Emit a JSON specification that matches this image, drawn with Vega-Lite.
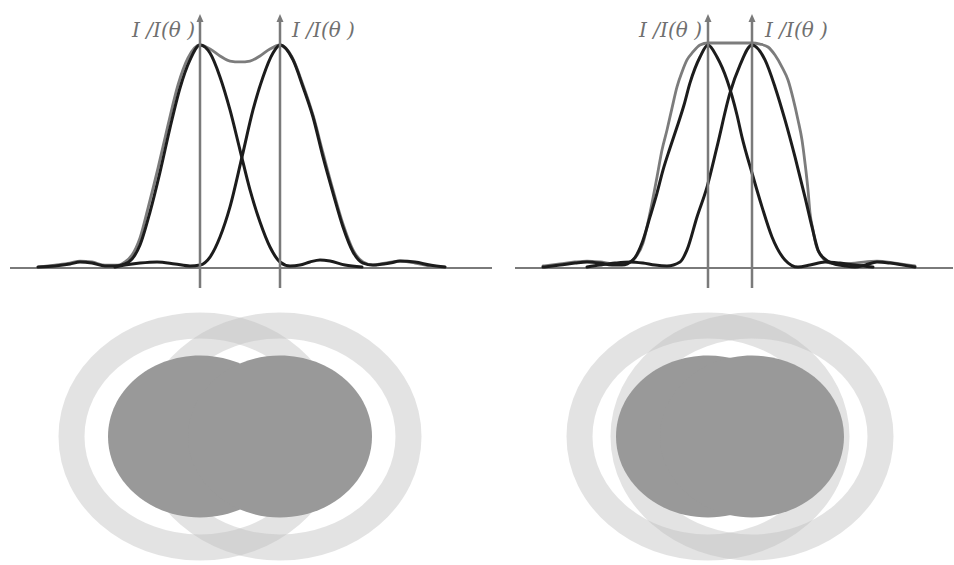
{
  "$schema": "https://vega.github.io/schema/vega-lite/v6.json",
  "padding": 0,
  "spacing": 0,
  "bounds": "flush",
  "columns": 2,
  "background": "white",
  "config": {"view": {"stroke": null}},
  "datasets": {
    "curvesL": [
      {"curve":"sum","theta":-20.2,"I":0.004},{"curve":"sum","theta":-18.5,"I":0.013},{"curve":"sum","theta":-17.0,"I":0.022},{"curve":"sum","theta":-16.0,"I":0.031},{"curve":"sum","theta":-14.8,"I":0.027},{"curve":"sum","theta":-13.5,"I":0.013},{"curve":"sum","theta":-12.2,"I":0.013},{"curve":"sum","theta":-11.5,"I":0.027},{"curve":"sum","theta":-10.8,"I":0.058},{"curve":"sum","theta":-10.0,"I":0.135},{"curve":"sum","theta":-9.2,"I":0.269},{"curve":"sum","theta":-8.2,"I":0.448},{"curve":"sum","theta":-7.2,"I":0.641},{"curve":"sum","theta":-6.2,"I":0.821},{"curve":"sum","theta":-5.2,"I":0.942},{"curve":"sum","theta":-4.0,"I":1.0},{"curve":"sum","theta":-3.0,"I":0.982},{"curve":"sum","theta":-2.0,"I":0.951},{"curve":"sum","theta":-1.0,"I":0.928},{"curve":"sum","theta":0.0,"I":0.924},{"curve":"sum","theta":1.0,"I":0.928},{"curve":"sum","theta":2.0,"I":0.951},{"curve":"sum","theta":3.0,"I":0.982},{"curve":"sum","theta":4.0,"I":1.0},{"curve":"sum","theta":5.2,"I":0.946},{"curve":"sum","theta":6.3,"I":0.821},{"curve":"sum","theta":7.3,"I":0.686},{"curve":"sum","theta":8.3,"I":0.516},{"curve":"sum","theta":9.3,"I":0.35},{"curve":"sum","theta":10.3,"I":0.197},{"curve":"sum","theta":11.3,"I":0.081},{"curve":"sum","theta":12.3,"I":0.027},{"curve":"sum","theta":13.3,"I":0.013},{"curve":"sum","theta":14.5,"I":0.022},{"curve":"sum","theta":16.0,"I":0.031},{"curve":"sum","theta":17.5,"I":0.022},{"curve":"sum","theta":19.0,"I":0.009},{"curve":"sum","theta":20.5,"I":0.004},
      {"curve":"A","theta":-20.2,"I":0.004},{"curve":"A","theta":-18.5,"I":0.009},{"curve":"A","theta":-17.0,"I":0.018},{"curve":"A","theta":-16.0,"I":0.027},{"curve":"A","theta":-14.8,"I":0.022},{"curve":"A","theta":-13.5,"I":0.009},{"curve":"A","theta":-12.5,"I":0.009},{"curve":"A","theta":-11.5,"I":0.018},{"curve":"A","theta":-10.8,"I":0.04},{"curve":"A","theta":-10.0,"I":0.103},{"curve":"A","theta":-9.0,"I":0.251},{"curve":"A","theta":-8.0,"I":0.43},{"curve":"A","theta":-7.0,"I":0.628},{"curve":"A","theta":-6.0,"I":0.807},{"curve":"A","theta":-5.0,"I":0.933},{"curve":"A","theta":-4.0,"I":1.0},{"curve":"A","theta":-3.0,"I":0.964},{"curve":"A","theta":-2.0,"I":0.857},{"curve":"A","theta":-1.0,"I":0.709},{"curve":"A","theta":0.0,"I":0.529},{"curve":"A","theta":1.0,"I":0.35},{"curve":"A","theta":2.0,"I":0.206},{"curve":"A","theta":3.0,"I":0.094},{"curve":"A","theta":4.0,"I":0.027},{"curve":"A","theta":5.0,"I":0.009},{"curve":"A","theta":6.0,"I":0.013},{"curve":"A","theta":7.0,"I":0.027},{"curve":"A","theta":8.0,"I":0.036},{"curve":"A","theta":9.0,"I":0.031},{"curve":"A","theta":10.5,"I":0.013},{"curve":"A","theta":12.2,"I":0.004},
      {"curve":"B","theta":-12.5,"I":0.004},{"curve":"B","theta":-11.5,"I":0.013},{"curve":"B","theta":-10.0,"I":0.022},{"curve":"B","theta":-8.3,"I":0.027},{"curve":"B","theta":-6.5,"I":0.018},{"curve":"B","theta":-5.0,"I":0.009},{"curve":"B","theta":-4.0,"I":0.013},{"curve":"B","theta":-3.0,"I":0.049},{"curve":"B","theta":-2.0,"I":0.139},{"curve":"B","theta":-1.0,"I":0.274},{"curve":"B","theta":0.2,"I":0.498},{"curve":"B","theta":1.3,"I":0.709},{"curve":"B","theta":2.3,"I":0.857},{"curve":"B","theta":3.3,"I":0.964},{"curve":"B","theta":4.0,"I":1.0},{"curve":"B","theta":5.3,"I":0.933},{"curve":"B","theta":6.3,"I":0.812},{"curve":"B","theta":7.3,"I":0.677},{"curve":"B","theta":8.3,"I":0.498},{"curve":"B","theta":9.3,"I":0.336},{"curve":"B","theta":10.3,"I":0.184},{"curve":"B","theta":11.3,"I":0.072},{"curve":"B","theta":12.3,"I":0.022},{"curve":"B","theta":13.3,"I":0.013},{"curve":"B","theta":15.0,"I":0.022},{"curve":"B","theta":16.0,"I":0.031},{"curve":"B","theta":17.5,"I":0.027},{"curve":"B","theta":19.0,"I":0.013},{"curve":"B","theta":20.5,"I":0.004}
    ],
    "curvesR": [
      {"curve":"sum","theta":-18.7,"I":0.009},{"curve":"sum","theta":-17.0,"I":0.018},{"curve":"sum","theta":-15.5,"I":0.027},{"curve":"sum","theta":-14.3,"I":0.031},{"curve":"sum","theta":-13.0,"I":0.027},{"curve":"sum","theta":-11.5,"I":0.018},{"curve":"sum","theta":-10.3,"I":0.022},{"curve":"sum","theta":-9.5,"I":0.045},{"curve":"sum","theta":-8.7,"I":0.112},{"curve":"sum","theta":-8.0,"I":0.247},{"curve":"sum","theta":-7.3,"I":0.408},{"curve":"sum","theta":-6.8,"I":0.529},{"curve":"sum","theta":-6.3,"I":0.619},{"curve":"sum","theta":-5.8,"I":0.717},{"curve":"sum","theta":-5.3,"I":0.812},{"curve":"sum","theta":-4.8,"I":0.879},{"curve":"sum","theta":-4.3,"I":0.933},{"curve":"sum","theta":-3.7,"I":0.969},{"curve":"sum","theta":-3.0,"I":1.0},{"curve":"sum","theta":-2.2,"I":1.009},{"curve":"sum","theta":0.0,"I":1.009},{"curve":"sum","theta":2.2,"I":1.009},{"curve":"sum","theta":3.0,"I":1.004},{"curve":"sum","theta":3.8,"I":0.991},{"curve":"sum","theta":4.5,"I":0.955},{"curve":"sum","theta":5.2,"I":0.901},{"curve":"sum","theta":5.8,"I":0.843},{"curve":"sum","theta":6.3,"I":0.762},{"curve":"sum","theta":6.8,"I":0.664},{"curve":"sum","theta":7.2,"I":0.574},{"curve":"sum","theta":7.5,"I":0.471},{"curve":"sum","theta":7.8,"I":0.35},{"curve":"sum","theta":8.0,"I":0.247},{"curve":"sum","theta":8.3,"I":0.17},{"curve":"sum","theta":8.6,"I":0.103},{"curve":"sum","theta":9.2,"I":0.049},{"curve":"sum","theta":10.0,"I":0.022},{"curve":"sum","theta":11.0,"I":0.018},{"curve":"sum","theta":12.5,"I":0.022},{"curve":"sum","theta":14.7,"I":0.031},{"curve":"sum","theta":16.5,"I":0.022},{"curve":"sum","theta":18.5,"I":0.009},
      {"curve":"A","theta":-18.7,"I":0.004},{"curve":"A","theta":-17.0,"I":0.013},{"curve":"A","theta":-15.5,"I":0.022},{"curve":"A","theta":-14.3,"I":0.027},{"curve":"A","theta":-13.0,"I":0.022},{"curve":"A","theta":-11.8,"I":0.013},{"curve":"A","theta":-10.8,"I":0.013},{"curve":"A","theta":-9.7,"I":0.036},{"curve":"A","theta":-8.8,"I":0.112},{"curve":"A","theta":-8.0,"I":0.229},{"curve":"A","theta":-7.3,"I":0.336},{"curve":"A","theta":-6.7,"I":0.439},{"curve":"A","theta":-6.0,"I":0.538},{"curve":"A","theta":-5.3,"I":0.632},{"curve":"A","theta":-4.6,"I":0.731},{"curve":"A","theta":-4.0,"I":0.83},{"curve":"A","theta":-3.0,"I":0.946},{"curve":"A","theta":-2.2,"I":1.0},{"curve":"A","theta":-1.3,"I":0.946},{"curve":"A","theta":-0.3,"I":0.843},{"curve":"A","theta":0.7,"I":0.686},{"curve":"A","theta":1.2,"I":0.587},{"curve":"A","theta":2.2,"I":0.426},{"curve":"A","theta":3.2,"I":0.274},{"curve":"A","theta":4.2,"I":0.139},{"curve":"A","theta":5.5,"I":0.036},{"curve":"A","theta":6.8,"I":0.004},{"curve":"A","theta":8.0,"I":0.013},{"curve":"A","theta":9.5,"I":0.027},{"curve":"A","theta":11.0,"I":0.022},{"curve":"A","theta":12.5,"I":0.013},{"curve":"A","theta":14.3,"I":0.004},
      {"curve":"B","theta":-14.3,"I":0.004},{"curve":"B","theta":-13.0,"I":0.013},{"curve":"B","theta":-11.5,"I":0.022},{"curve":"B","theta":-10.0,"I":0.027},{"curve":"B","theta":-8.7,"I":0.022},{"curve":"B","theta":-7.5,"I":0.013},{"curve":"B","theta":-6.3,"I":0.009},{"curve":"B","theta":-5.0,"I":0.027},{"curve":"B","theta":-4.3,"I":0.081},{"curve":"B","theta":-3.3,"I":0.229},{"curve":"B","theta":-2.3,"I":0.363},{"curve":"B","theta":-1.3,"I":0.543},{"curve":"B","theta":0.0,"I":0.785},{"curve":"B","theta":1.0,"I":0.91},{"curve":"B","theta":2.2,"I":1.0},{"curve":"B","theta":3.5,"I":0.933},{"curve":"B","theta":4.5,"I":0.812},{"curve":"B","theta":5.5,"I":0.664},{"curve":"B","theta":6.5,"I":0.498},{"curve":"B","theta":7.5,"I":0.318},{"curve":"B","theta":8.2,"I":0.184},{"curve":"B","theta":8.8,"I":0.081},{"curve":"B","theta":9.5,"I":0.04},{"curve":"B","theta":10.2,"I":0.022},{"curve":"B","theta":11.5,"I":0.009},{"curve":"B","theta":12.5,"I":0.004},{"curve":"B","theta":13.5,"I":0.013},{"curve":"B","theta":14.7,"I":0.027},{"curve":"B","theta":16.0,"I":0.022},{"curve":"B","theta":17.3,"I":0.013},{"curve":"B","theta":18.5,"I":0.004}
    ],
    "srcL": [
      {"theta": -4, "phi": 0, "lo": -0.0897, "hi": 1.117, "ly": 1.063, "side": "left", "label": "I /I(θ )"},
      {"theta": 4, "phi": 0, "lo": -0.0897, "hi": 1.117, "ly": 1.063, "side": "right", "label": "I /I(θ )"}
    ],
    "srcR": [
      {"theta": -2.2, "phi": 0, "lo": -0.0897, "hi": 1.117, "ly": 1.063, "side": "left", "label": "I /I(θ )"},
      {"theta": 2.2, "phi": 0, "lo": -0.0897, "hi": 1.117, "ly": 1.063, "side": "right", "label": "I /I(θ )"}
    ],
    "baseL": [{"theta": -23, "theta2": 25.2, "I": 0}],
    "baseR": [{"theta": -21.5, "theta2": 22.3, "I": 0}]
  },
  "concat": [
    {
      "width": 477, "height": 290,
      "layer": [
        {"data": {"name": "baseL"}, "mark": {"type": "rule", "color": "#7a7a7a", "strokeWidth": 2},
         "encoding": {"x": {"field": "theta", "type": "quantitative", "scale": {"domain": [-24, 23.7], "nice": false}, "axis": null},
                      "x2": {"field": "theta2"},
                      "y": {"field": "I", "type": "quantitative", "scale": {"domain": [-0.0987, 1.2018], "nice": false}, "axis": null}}},
        {"data": {"name": "curvesL"}, "transform": [{"filter": "datum.curve == 'sum'"}],
         "mark": {"type": "line", "color": "#7c7c7c", "strokeWidth": 2.8, "interpolate": "monotone", "strokeCap": "round"},
         "encoding": {"x": {"field": "theta", "type": "quantitative", "scale": {"domain": [-24, 23.7], "nice": false}, "axis": null},
                      "y": {"field": "I", "type": "quantitative", "scale": {"domain": [-0.0987, 1.2018], "nice": false}, "axis": null}}},
        {"data": {"name": "curvesL"}, "transform": [{"filter": "datum.curve != 'sum'"}],
         "mark": {"type": "line", "color": "#1c1c1c", "strokeWidth": 3, "interpolate": "monotone", "strokeCap": "round"},
         "encoding": {"x": {"field": "theta", "type": "quantitative", "scale": {"domain": [-24, 23.7], "nice": false}, "axis": null},
                      "y": {"field": "I", "type": "quantitative", "scale": {"domain": [-0.0987, 1.2018], "nice": false}, "axis": null},
                      "detail": {"field": "curve"}}},
        {"data": {"name": "srcL"}, "mark": {"type": "rule", "color": "#7a7a7a", "strokeWidth": 2.5},
         "encoding": {"x": {"field": "theta", "type": "quantitative", "scale": {"domain": [-24, 23.7], "nice": false}, "axis": null},
                      "y": {"field": "lo", "type": "quantitative", "scale": {"domain": [-0.0987, 1.2018], "nice": false}, "axis": null},
                      "y2": {"field": "hi"}}},
        {"data": {"name": "srcL"}, "mark": {"type": "point", "shape": "M0,-1L0.7,0.6L-0.7,0.6Z", "size": 100, "filled": true, "color": "#7a7a7a", "opacity": 1},
         "encoding": {"x": {"field": "theta", "type": "quantitative", "scale": {"domain": [-24, 23.7], "nice": false}, "axis": null},
                      "y": {"field": "hi", "type": "quantitative", "scale": {"domain": [-0.0987, 1.2018], "nice": false}, "axis": null}}},
        {"data": {"name": "srcL"}, "transform": [{"filter": "datum.side == 'left'"}],
         "mark": {"type": "text", "align": "right", "baseline": "middle", "dx": -5, "font": "DejaVu Serif", "fontStyle": "italic", "fontSize": 20, "color": "#707070"},
         "encoding": {"x": {"field": "theta", "type": "quantitative", "scale": {"domain": [-24, 23.7], "nice": false}, "axis": null},
                      "y": {"field": "ly", "type": "quantitative", "scale": {"domain": [-0.0987, 1.2018], "nice": false}, "axis": null},
                      "text": {"field": "label"}}},
        {"data": {"name": "srcL"}, "transform": [{"filter": "datum.side == 'right'"}],
         "mark": {"type": "text", "align": "left", "baseline": "middle", "dx": 12, "font": "DejaVu Serif", "fontStyle": "italic", "fontSize": 20, "color": "#707070"},
         "encoding": {"x": {"field": "theta", "type": "quantitative", "scale": {"domain": [-24, 23.7], "nice": false}, "axis": null},
                      "y": {"field": "ly", "type": "quantitative", "scale": {"domain": [-0.0987, 1.2018], "nice": false}, "axis": null},
                      "text": {"field": "label"}}}
      ]
    },
    {
      "width": 477, "height": 290,
      "layer": [
        {"data": {"name": "baseR"}, "mark": {"type": "rule", "color": "#7a7a7a", "strokeWidth": 2},
         "encoding": {"x": {"field": "theta", "type": "quantitative", "scale": {"domain": [-25.3, 22.4], "nice": false}, "axis": null},
                      "x2": {"field": "theta2"},
                      "y": {"field": "I", "type": "quantitative", "scale": {"domain": [-0.0987, 1.2018], "nice": false}, "axis": null}}},
        {"data": {"name": "curvesR"}, "transform": [{"filter": "datum.curve == 'sum'"}],
         "mark": {"type": "line", "color": "#7c7c7c", "strokeWidth": 2.8, "interpolate": "monotone", "strokeCap": "round"},
         "encoding": {"x": {"field": "theta", "type": "quantitative", "scale": {"domain": [-25.3, 22.4], "nice": false}, "axis": null},
                      "y": {"field": "I", "type": "quantitative", "scale": {"domain": [-0.0987, 1.2018], "nice": false}, "axis": null}}},
        {"data": {"name": "curvesR"}, "transform": [{"filter": "datum.curve != 'sum'"}],
         "mark": {"type": "line", "color": "#1c1c1c", "strokeWidth": 3, "interpolate": "monotone", "strokeCap": "round"},
         "encoding": {"x": {"field": "theta", "type": "quantitative", "scale": {"domain": [-25.3, 22.4], "nice": false}, "axis": null},
                      "y": {"field": "I", "type": "quantitative", "scale": {"domain": [-0.0987, 1.2018], "nice": false}, "axis": null},
                      "detail": {"field": "curve"}}},
        {"data": {"name": "srcR"}, "mark": {"type": "rule", "color": "#7a7a7a", "strokeWidth": 2.5},
         "encoding": {"x": {"field": "theta", "type": "quantitative", "scale": {"domain": [-25.3, 22.4], "nice": false}, "axis": null},
                      "y": {"field": "lo", "type": "quantitative", "scale": {"domain": [-0.0987, 1.2018], "nice": false}, "axis": null},
                      "y2": {"field": "hi"}}},
        {"data": {"name": "srcR"}, "mark": {"type": "point", "shape": "M0,-1L0.7,0.6L-0.7,0.6Z", "size": 100, "filled": true, "color": "#7a7a7a", "opacity": 1},
         "encoding": {"x": {"field": "theta", "type": "quantitative", "scale": {"domain": [-25.3, 22.4], "nice": false}, "axis": null},
                      "y": {"field": "hi", "type": "quantitative", "scale": {"domain": [-0.0987, 1.2018], "nice": false}, "axis": null}}},
        {"data": {"name": "srcR"}, "transform": [{"filter": "datum.side == 'left'"}],
         "mark": {"type": "text", "align": "right", "baseline": "middle", "dx": -6, "font": "DejaVu Serif", "fontStyle": "italic", "fontSize": 20, "color": "#707070"},
         "encoding": {"x": {"field": "theta", "type": "quantitative", "scale": {"domain": [-25.3, 22.4], "nice": false}, "axis": null},
                      "y": {"field": "ly", "type": "quantitative", "scale": {"domain": [-0.0987, 1.2018], "nice": false}, "axis": null},
                      "text": {"field": "label"}}},
        {"data": {"name": "srcR"}, "transform": [{"filter": "datum.side == 'right'"}],
         "mark": {"type": "text", "align": "left", "baseline": "middle", "dx": 13, "font": "DejaVu Serif", "fontStyle": "italic", "fontSize": 20, "color": "#707070"},
         "encoding": {"x": {"field": "theta", "type": "quantitative", "scale": {"domain": [-25.3, 22.4], "nice": false}, "axis": null},
                      "y": {"field": "ly", "type": "quantitative", "scale": {"domain": [-0.0987, 1.2018], "nice": false}, "axis": null},
                      "text": {"field": "label"}}}
      ]
    },
    {
      "width": 477, "height": 275,
      "data": {"name": "srcL"},
      "layer": [
        {"mark": {"type": "point", "shape": "M1,0C1,0.477,0.552,0.864,0,0.864C-0.552,0.864,-1,0.477,-1,0C-1,-0.477,-0.552,-0.864,0,-0.864C0.552,-0.864,1,-0.477,1,0Z", "size": 66049, "filled": false, "stroke": "#bebebe", "strokeOpacity": 0.43, "opacity": 1, "strokeWidth": 26},
         "encoding": {"x": {"field": "theta", "type": "quantitative", "scale": {"domain": [-24, 23.7], "nice": false}, "axis": null},
                      "y": {"field": "phi", "type": "quantitative", "scale": {"domain": [-12.85, 14.65], "nice": false}, "axis": null}}},
        {"mark": {"type": "point", "shape": "M1,0C1,0.486,0.552,0.88,0,0.88C-0.552,0.88,-1,0.486,-1,0C-1,-0.486,-0.552,-0.88,0,-0.88C0.552,-0.88,1,-0.486,1,0Z", "size": 33856, "filled": true, "color": "#999999", "opacity": 1, "strokeWidth": 0},
         "encoding": {"x": {"field": "theta", "type": "quantitative", "scale": {"domain": [-24, 23.7], "nice": false}, "axis": null},
                      "y": {"field": "phi", "type": "quantitative", "scale": {"domain": [-12.85, 14.65], "nice": false}, "axis": null}}}
      ]
    },
    {
      "width": 477, "height": 275,
      "data": {"name": "srcR"},
      "layer": [
        {"mark": {"type": "point", "shape": "M1,0C1,0.477,0.552,0.864,0,0.864C-0.552,0.864,-1,0.477,-1,0C-1,-0.477,-0.552,-0.864,0,-0.864C0.552,-0.864,1,-0.477,1,0Z", "size": 66049, "filled": false, "stroke": "#bebebe", "strokeOpacity": 0.43, "opacity": 1, "strokeWidth": 26},
         "encoding": {"x": {"field": "theta", "type": "quantitative", "scale": {"domain": [-25.3, 22.4], "nice": false}, "axis": null},
                      "y": {"field": "phi", "type": "quantitative", "scale": {"domain": [-12.85, 14.65], "nice": false}, "axis": null}}},
        {"mark": {"type": "point", "shape": "M1,0C1,0.486,0.552,0.88,0,0.88C-0.552,0.88,-1,0.486,-1,0C-1,-0.486,-0.552,-0.88,0,-0.88C0.552,-0.88,1,-0.486,1,0Z", "size": 33856, "filled": true, "color": "#999999", "opacity": 1, "strokeWidth": 0},
         "encoding": {"x": {"field": "theta", "type": "quantitative", "scale": {"domain": [-25.3, 22.4], "nice": false}, "axis": null},
                      "y": {"field": "phi", "type": "quantitative", "scale": {"domain": [-12.85, 14.65], "nice": false}, "axis": null}}}
      ]
    }
  ]
}
